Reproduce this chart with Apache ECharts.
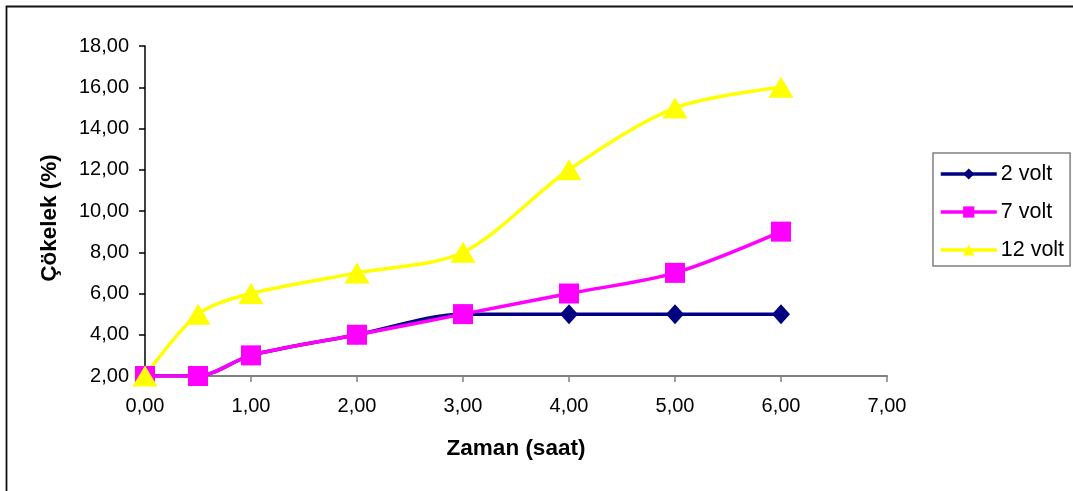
<!DOCTYPE html>
<html>
<head>
<meta charset="utf-8">
<script src="https://cdn.jsdelivr.net/npm/echarts@6/dist/echarts.min.js"></script>
<style>
html,body{margin:0;padding:0;background:#fff;}
#chart{width:1073px;height:491px;}
</style>
</head>
<body>
<div id="chart"></div>
<script>
// Elapsed time (hours)
const zaman = [0, 0.5, 1, 2, 3, 4, 5, 6];
// Precipitate (%) per applied voltage
const volt2 = [2, 2, 3, 4, 5, 5, 5, 5];
const volt7 = [2, 2, 3, 4, 5, 6, 7, 9];
const volt12 = [2, 5, 6, 7, 8, 12, 15, 16];
const seriesNames = ['2 volt', '7 volt', '12 volt'];

const fmt = v => v.toFixed(2).replace('.', ',');
const pairs = arr => zaman.map((x, i) => [x, arr[i]]);
const font = 'Liberation Sans, Arial, sans-serif';

const chart = echarts.init(document.getElementById('chart'), null, {renderer: 'canvas'});

const mk = (name, data, color, symbol, size) => ({
  name, type: 'line', data: pairs(data), smooth: 0.3,
  symbol, symbolSize: size, showSymbol: true,
  lineStyle: {color, width: 3.5},
  itemStyle: {color},
  emphasis: {disabled: true},
  z: 2
});

chart.setOption({
  animation: false,
  backgroundColor: '#fff',
  grid: {left: 145, top: 46, right: 186, bottom: 115},
  graphic: [{
    type: 'rect', shape: {x: 6.5, y: 6.5, width: 1200, height: 700},
    style: {fill: 'none', stroke: '#111', lineWidth: 1.8}, silent: true, z: 0
  }],
  legend: {
    orient: 'vertical', left: 933, top: 153,
    padding: [10, 6, 5, 6],
    borderColor: '#808080', borderWidth: 1.5,
    itemWidth: 56, itemHeight: 14, itemGap: 16,
    lineStyle: {width: 3.5},
    textStyle: {fontFamily: font, fontSize: 21.5, color: '#000', padding: [0, 0, 0, -1]},
    data: seriesNames
  },
  xAxis: {
    type: 'value', min: 0, max: 7, interval: 1,
    name: 'Zaman (saat)', nameLocation: 'middle', nameGap: 61,
    nameTextStyle: {fontFamily: font, fontSize: 22.5, fontWeight: 'bold', color: '#000'},
    axisLine: {show: true, onZero: false, lineStyle: {color: '#808080', width: 2}},
    axisTick: {show: true, length: 6, lineStyle: {color: '#808080', width: 1.5}},
    axisLabel: {fontFamily: font, fontSize: 20, color: '#000', margin: 20, formatter: fmt},
    splitLine: {show: false}
  },
  yAxis: {
    type: 'value', min: 2, max: 18, interval: 2,
    name: 'Çökelek (%)', nameLocation: 'middle', nameGap: 84,
    nameTextStyle: {fontFamily: font, fontSize: 22.5, fontWeight: 'bold', color: '#000', padding: [0, 14, 0, 0]},
    axisLine: {show: true, lineStyle: {color: '#000', width: 1.5}},
    axisTick: {show: true, length: 6, lineStyle: {color: '#000', width: 1.5}},
    axisLabel: {fontFamily: font, fontSize: 20, color: '#000', margin: 16, formatter: fmt},
    splitLine: {show: false}
  },
  series: [
    mk(seriesNames[0], volt2, '#000080', 'diamond', [18, 20]),
    mk(seriesNames[1], volt7, '#FF00FF', 'rect', 20),
    mk(seriesNames[2], volt12, '#FFFF00', 'triangle', [25, 21])
  ]
});
</script>
</body>
</html>
